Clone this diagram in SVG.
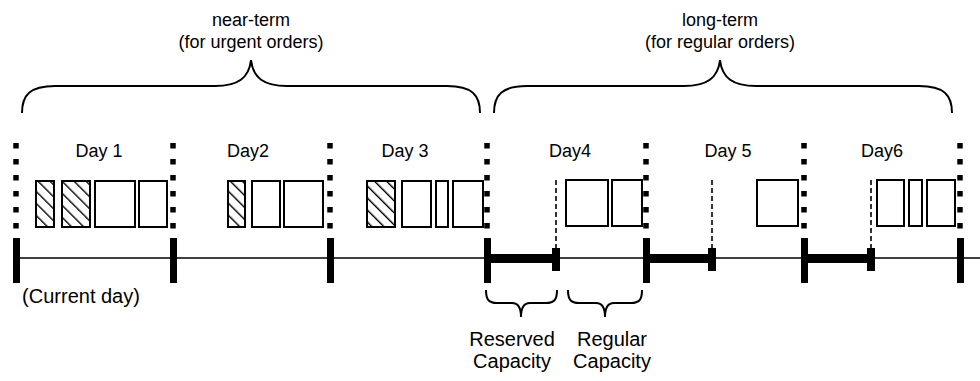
<svg xmlns="http://www.w3.org/2000/svg" width="980" height="381" viewBox="0 0 980 381">
  <defs>
    <pattern id="hatch" patternUnits="userSpaceOnUse" width="8.5" height="8" patternTransform="rotate(-45)">
      <line x1="0" y1="0" x2="0" y2="8" stroke="#000" stroke-width="2.8"/>
    </pattern>
    <style>
      text { font-family: "Liberation Sans", Arial, sans-serif; fill: #000; }
      .lbl { font-size: 18px; text-anchor: middle; }
      .sm { font-size: 20px; text-anchor: middle; }
      .box { fill: #fff; stroke: #000; stroke-width: 2; }
      .hbox { fill: url(#hatch); stroke: #000; stroke-width: 2; }
      .dots { stroke: #000; stroke-width: 5.5; stroke-dasharray: 5.5 10.5; }
      .bar { fill: #000; }
      .dash { stroke: #000; stroke-width: 1.6; stroke-dasharray: 5 3; }
      .brace { fill: none; stroke: #000; stroke-width: 2; }
      .axis { stroke: #000; stroke-width: 1.6; }
    </style>
  </defs>

  <rect width="980" height="381" fill="#fff"/>

  <!-- horizon labels and braces -->
  <g id="near-term">
    <text class="lbl" x="251" y="26">near-term</text>
    <text class="lbl" x="251" y="48">(for urgent orders)</text>
    <path class="brace" d="M22,113 C22,95 30,86 55,86 L215,86 C238,86 249,78 251,60 C253,78 264,86 287,86 L447,86 C472,86 480,95 480,113"/>
  </g>
  <g id="long-term">
    <text class="lbl" x="720" y="26">long-term</text>
    <text class="lbl" x="720" y="48">(for regular orders)</text>
    <path class="brace" d="M494,113 C494,95 502,86 527,86 L684,86 C707,86 718,78 720,60 C722,78 733,86 756,86 L919,86 C944,86 952,95 952,113"/>
  </g>

  <!-- time axis -->
  <g id="connectors">
    <line class="axis" x1="16" y1="258" x2="980" y2="258"/>
    <!-- day boundaries: dotted above, solid bar on the axis -->
    <g>
      <line class="dots" x1="16" y1="143" x2="16" y2="230"/>
      <line class="dots" x1="173" y1="143" x2="173" y2="230"/>
      <line class="dots" x1="330" y1="143" x2="330" y2="230"/>
      <line class="dots" x1="487" y1="143" x2="487" y2="230"/>
      <line class="dots" x1="646" y1="143" x2="646" y2="230"/>
      <line class="dots" x1="804" y1="143" x2="804" y2="230"/>
      <line class="dots" x1="960" y1="143" x2="960" y2="230"/>
      <rect class="bar" x="13" y="238" width="7" height="45"/>
      <rect class="bar" x="170" y="238" width="7" height="45"/>
      <rect class="bar" x="327" y="238" width="7" height="45"/>
      <rect class="bar" x="484" y="238" width="7" height="45"/>
      <rect class="bar" x="643" y="238" width="7" height="45"/>
      <rect class="bar" x="801" y="238" width="7" height="45"/>
      <rect class="bar" x="957" y="238" width="7" height="45"/>
    </g>
    <!-- reserved capacity segments -->
    <g>
      <rect class="bar" x="487" y="254" width="68" height="9"/>
      <rect class="bar" x="552" y="248" width="8" height="23"/>
      <line class="dash" x1="556" y1="180" x2="556" y2="248"/>
      <rect class="bar" x="646" y="254" width="66" height="9"/>
      <rect class="bar" x="708" y="248" width="8" height="23"/>
      <line class="dash" x1="712" y1="180" x2="712" y2="248"/>
      <rect class="bar" x="804" y="254" width="67" height="9"/>
      <rect class="bar" x="867" y="248" width="8" height="23"/>
      <line class="dash" x1="871" y1="180" x2="871" y2="248"/>
    </g>
  </g>

  <g id="day1">
    <text class="lbl" x="99" y="157">Day 1</text>
    <rect class="hbox" x="36" y="181" width="18" height="46"/>
    <rect class="hbox" x="62" y="181" width="28" height="46"/>
    <rect class="box" x="95" y="181" width="40" height="46"/>
    <rect class="box" x="139" y="181" width="28" height="46"/>
    <text class="sm" x="81" y="303">(Current day)</text>
  </g>
  <g id="day2">
    <text class="lbl" x="248" y="157">Day2</text>
    <rect class="hbox" x="228" y="181" width="17" height="46"/>
    <rect class="box" x="252" y="181" width="28" height="46"/>
    <rect class="box" x="284" y="181" width="39" height="46"/>
  </g>
  <g id="day3">
    <text class="lbl" x="405" y="157">Day 3</text>
    <rect class="hbox" x="367" y="181" width="28" height="46"/>
    <rect class="box" x="402" y="181" width="29" height="46"/>
    <rect class="box" x="436" y="181" width="12" height="46"/>
    <rect class="box" x="453" y="181" width="30" height="46"/>
  </g>
  <g id="day4">
    <text class="lbl" x="570" y="157">Day4</text>
    <rect class="box" x="566" y="180" width="42" height="46"/>
    <rect class="box" x="612" y="180" width="30" height="46"/>
  </g>
  <g id="day5">
    <text class="lbl" x="728" y="157">Day 5</text>
    <rect class="box" x="757" y="180" width="41" height="46"/>
  </g>
  <g id="day6">
    <text class="lbl" x="882" y="157">Day6</text>
    <rect class="box" x="877" y="180" width="27" height="46"/>
    <rect class="box" x="909" y="180" width="13" height="46"/>
    <rect class="box" x="927" y="180" width="28" height="46"/>
  </g>

  <!-- capacity split of a future day -->
  <g id="reserved-capacity">
    <path class="brace" d="M486,290 C486,300 489,303 497,303 L512,303 C518,303 521,307 521,317 C521,307 524,303 530,303 L546,303 C554,303 557,300 557,290"/>
    <text class="sm" x="512" y="346">Reserved</text>
    <text class="sm" x="512" y="368">Capacity</text>
  </g>
  <g id="regular-capacity">
    <path class="brace" d="M568,290 C568,300 571,303 579,303 L596,303 C602,303 605,307 605,317 C605,307 608,303 614,303 L631,303 C639,303 642,300 642,290"/>
    <text class="sm" x="612" y="346">Regular</text>
    <text class="sm" x="612" y="368">Capacity</text>
  </g>
</svg>
